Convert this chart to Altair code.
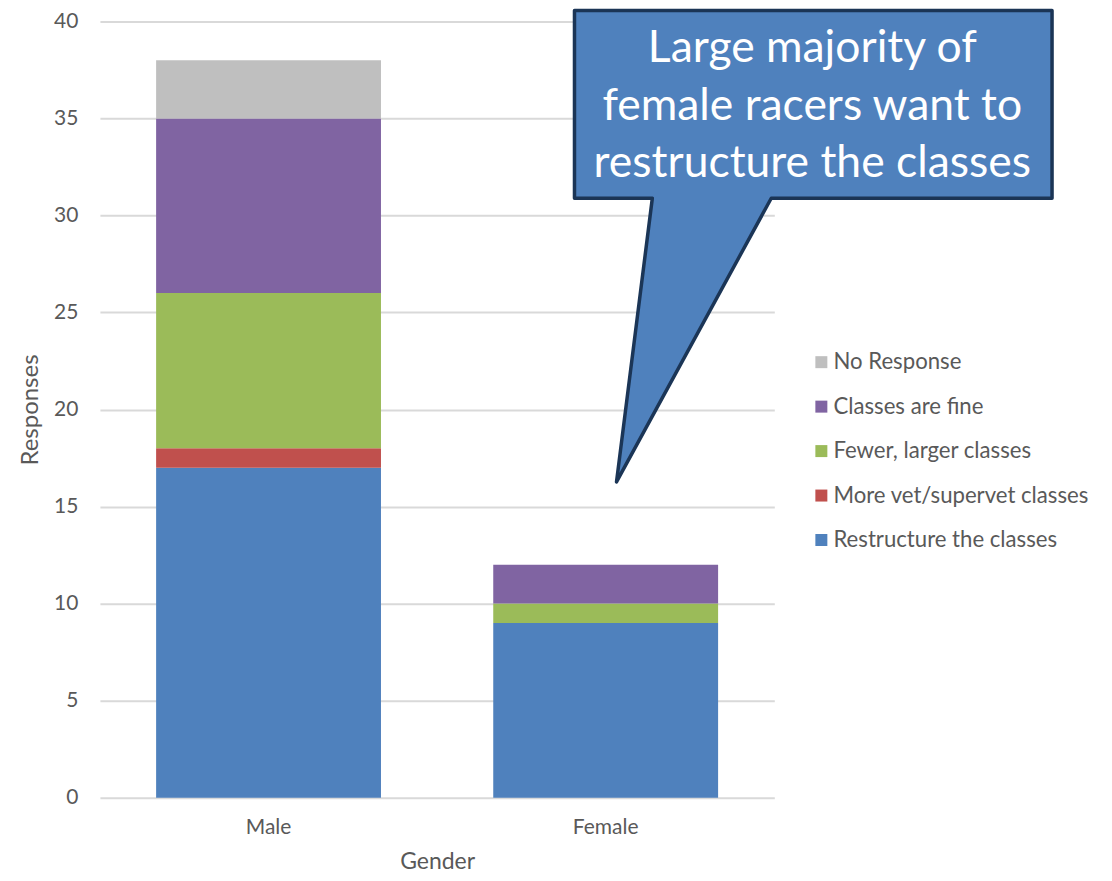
import altair as alt
import pandas as pd

genders = ["Male", "Female"]
series = ["Restructure the classes", "More vet/supervet classes",
          "Fewer, larger classes", "Classes are fine", "No Response"]
male_values = [17, 1, 8, 9, 3]
female_values = [9, 0, 1, 2, 0]
colors = ["#4F81BD", "#C0504D", "#9BBB59", "#8064A2", "#BFBFBF"]
callout_lines = ["Large majority of", "female racers want to", "restructure the classes"]

rows = []
for g, vals in zip(genders, [male_values, female_values]):
    for i, (s, v) in enumerate(zip(series, vals)):
        rows.append({"Gender": g, "Series": s, "Responses": v, "order": i})
df = pd.DataFrame(rows)

FONT = "Lato"
GREY = "#595959"

bars = alt.Chart(df).mark_bar().encode(
    x=alt.X("Gender:N", sort=genders,
            scale=alt.Scale(paddingInner=0.333, paddingOuter=0.1667),
            axis=alt.Axis(title="Gender", labelAngle=0, ticks=False, domain=False,
                          labelFont=FONT, labelFontSize=21, labelColor=GREY,
                          labelPadding=19, titleFont=FONT, titleFontSize=23,
                          titleFontWeight="normal", titleColor=GREY, titlePadding=13)),
    y=alt.Y("Responses:Q", stack="zero",
            scale=alt.Scale(domain=[0, 40], nice=False),
            axis=alt.Axis(title="Responses", values=list(range(0, 41, 5)), ticks=False,
                          domain=False, labelFont=FONT, labelFontSize=21, labelColor=GREY,
                          labelPadding=22, gridColor="#D9D9D9", gridWidth=2,
                          titleFont=FONT, titleFontSize=24, titleFontWeight="normal",
                          titleColor=GREY, titlePadding=11)),
    color=alt.Color("Series:N",
                    scale=alt.Scale(domain=series[::-1], range=colors[::-1]),
                    legend=alt.Legend(title=None, orient="none", legendX=711, legendY=330,
                                      symbolType="square", symbolSize=144,
                                      symbolStrokeWidth=0, labelFont=FONT,
                                      labelFontSize=22.2, labelColor=GREY, labelLimit=0,
                                      rowPadding=21.5, padding=0, labelOffset=1)),
    order=alt.Order("order:Q", sort="ascending"),
)

# callout shape in unit square (-1..1), drawn as a custom symbol
path = ("M -1 -0.987 L 1 -0.987 L 1 -0.2008 L -0.176 -0.2008 L -0.824 0.987 "
        "L -0.674 -0.2008 L -1 -0.2008 Z")
callout = alt.Chart(pd.DataFrame({"a": [0]})).mark_point(
    shape=path, filled=True, fill="#4F81BD", stroke="#1B3556",
    strokeWidth=3.5, opacity=1, size=478 * 478, strokeJoin="round"
).encode(x=alt.value(714), y=alt.value(225))

text = alt.Chart(pd.DataFrame({"a": [0]})).mark_text(
    font=FONT, fontSize=44.5, color="white", align="center", baseline="alphabetic",
    lineHeight=57.5
).encode(x=alt.value(713), y=alt.value(41), text=alt.value(callout_lines))

chart = alt.layer(bars, callout, text).properties(
    width=675, height=777,
    autosize=alt.AutoSizeParams(type="none"),
    padding={"left": 92, "top": 13, "right": 330, "bottom": 75},
).configure_view(stroke=None)

chart.save("out.html", embed_options={"renderer": "svg", "actions": False})
